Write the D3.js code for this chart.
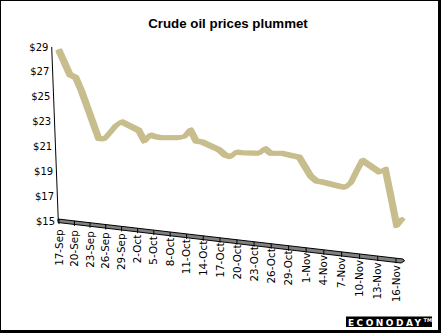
<!DOCTYPE html>
<html>
<head>
<meta charset="utf-8">
<script src="https://cdn.jsdelivr.net/npm/d3@7"></script>
<style>
  html, body { margin: 0; padding: 0; background: #fff; }
  svg { display: block; }
</style>
</head>
<body>
<svg id="chart" width="441" height="333"></svg>
<script>
// Daily crude oil closes, US$ per barrel (trading days only)
const tradeDates = [
  "2001-09-17","2001-09-18","2001-09-19","2001-09-20","2001-09-21",
  "2001-09-24","2001-09-25","2001-09-26","2001-09-27","2001-09-28",
  "2001-10-01","2001-10-02","2001-10-03","2001-10-04","2001-10-05",
  "2001-10-08","2001-10-09","2001-10-10","2001-10-11","2001-10-12",
  "2001-10-15","2001-10-16","2001-10-17","2001-10-18","2001-10-19",
  "2001-10-22","2001-10-23","2001-10-24","2001-10-25","2001-10-26",
  "2001-10-29","2001-10-30","2001-10-31","2001-11-01","2001-11-02",
  "2001-11-05","2001-11-06","2001-11-07","2001-11-08","2001-11-09",
  "2001-11-12","2001-11-13","2001-11-14","2001-11-15","2001-11-16"
];
const closePrices = [
  28.75, 27.79, 26.82, 26.66, 25.64,
  21.97, 21.98, 22.55, 23.16, 23.53,
  22.99, 22.18, 22.73, 22.63, 22.62,
  22.78, 22.93, 23.51, 22.67, 22.65,
  22.18, 21.83, 21.72, 22.16, 22.15,
  22.27, 22.70, 22.38, 22.43, 22.48,
  22.33, 21.61, 20.90, 20.58, 20.55,
  20.37, 20.33, 20.76, 21.74, 22.67,
  21.88, 22.17, 19.97, 17.72, 18.36
];
const priceTicks = [15, 17, 19, 21, 23, 25, 27, 29];
const dateTickLabels = [
  "17-Sep","20-Sep","23-Sep","26-Sep","29-Sep","2-Oct","5-Oct","8-Oct",
  "11-Oct","14-Oct","17-Oct","20-Oct","23-Oct","26-Oct","29-Oct","1-Nov",
  "4-Nov","7-Nov","10-Nov","13-Nov","16-Nov"
];
const chartTitle = "Crude oil prices plummet";

const parse = d3.timeParse("%Y-%m-%d");
const series = tradeDates.map((d, i) => ({ date: parse(d), value: closePrices[i] }));
const firstDay = parse("2001-09-17"), lastDay = parse("2001-11-16");

const svg = d3.select("#chart");
svg.append("rect").attr("width", 441).attr("height", 333).attr("fill", "#fff");

// Frame with a heavier lower/right edge
svg.append("rect").attr("x", 0.5).attr("y", 0.5).attr("width", 438).attr("height", 330)
  .attr("fill", "none").attr("stroke", "#000").attr("stroke-width", 1);
svg.append("rect").attr("x", 438).attr("y", 0).attr("width", 3).attr("height", 333).attr("fill", "#000");
svg.append("rect").attr("x", 0).attr("y", 330).attr("width", 441).attr("height", 3).attr("fill", "#000");

// Title
svg.append("text").attr("x", 228).attr("y", 28).attr("text-anchor", "middle")
  .attr("font-family", "'Liberation Sans', Arial, sans-serif").attr("font-weight", "bold")
  .attr("font-size", 13.3).attr("fill", "#000").text(chartTitle);

// Scales: time runs along a receding floor, price rises off that floor
const x = d3.scaleTime().domain([firstDay, lastDay]).range([57, 401]);
const floorTop = d3.scaleLinear().domain([58, 403]).range([219, 259]);
const rise = d3.scaleLinear().domain([15, 29]).range([0, 174]);
const axisLean = d3.scaleLinear().domain([15, 29]).range([58.3, 51.7]);
const px = d => x(d.date);
const py = d => floorTop(x(d.date)) + 2 - rise(d.value);

// Floor tick positions (perspective spacing along the floor)
const dayIdx = d3.scaleLinear().domain([0, 60]).range([59, 396]);
const floorX = days => dayIdx(days) - 0.00833 * days * (60 - days);
const labelTop = n => 229.3 + 0.855 * n + 0.0465 * n * n;

// Price axis
svg.append("line")
  .attr("x1", axisLean(29)).attr("y1", 221 - rise(29))
  .attr("x2", axisLean(15)).attr("y2", 221)
  .attr("stroke", "#000").attr("stroke-width", 1);
svg.append("g").selectAll("text").data(priceTicks).join("text")
  .attr("x", v => axisLean(v) - 3.3)
  .attr("y", v => 221 - rise(v))
  .attr("dy", "0.36em")
  .attr("text-anchor", "end")
  .attr("font-family", "'DejaVu Sans', sans-serif").attr("font-size", 10)
  .attr("fill", "#000")
  .text(v => "$" + v);

// Floor band
const fx0 = 58, fx1 = 403;
svg.append("path")
  .attr("d", `M${fx0},${floorTop(fx0)} L${fx1},${floorTop(fx1)} L${fx1 + 1.5},${floorTop(fx1) + 2} L${fx1 - 2},${floorTop(fx1) + 4} L${fx0},${floorTop(fx0) + 3.5} Z`)
  .attr("fill", "#808080").attr("stroke", "#000").attr("stroke-width", 1)
  .attr("stroke-linejoin", "miter");
svg.append("g").selectAll("line").data(dateTickLabels).join("line")
  .attr("x1", (d, i) => floorX(i * 3)).attr("x2", (d, i) => floorX(i * 3))
  .attr("y1", (d, i) => floorTop(floorX(i * 3)))
  .attr("y2", (d, i) => floorTop(floorX(i * 3)) + 5)
  .attr("stroke", "#000").attr("stroke-width", 1);

// Date labels, rotated
svg.append("g").selectAll("text").data(dateTickLabels).join("text")
  .attr("transform", (d, i) => `translate(${floorX(i * 3) + 3.6},${labelTop(i)}) rotate(-90)`)
  .attr("text-anchor", "end")
  .attr("font-family", "'DejaVu Sans', sans-serif").attr("font-size", 10.4)
  .attr("fill", "#000")
  .text(d => d);

// Price ribbon
const line = d3.line().x(px).y(py);
const ribbon = svg.append("g");
[[0, 0], [1, -0.35], [2, -0.7], [3, -1]].forEach(([dx, dy]) => {
  ribbon.append("path")
    .datum(series)
    .attr("transform", `translate(${dx},${dy})`)
    .attr("d", line)
    .attr("fill", "none")
    .attr("stroke", "#c8bd8d")
    .attr("stroke-width", 4)
    .attr("stroke-linejoin", "round")
    .attr("stroke-linecap", "butt");
});

// Logo
svg.append("rect").attr("x", 346).attr("y", 316.5).attr("width", 86).attr("height", 10.5).attr("fill", "#000");
svg.append("text").attr("x", 348).attr("y", 325.5)
  .attr("font-family", "'DejaVu Sans', sans-serif").attr("font-weight", "bold")
  .attr("font-size", 9).attr("fill", "#fff")
  .attr("textLength", 73).attr("lengthAdjust", "spacing")
  .text("ECONODAY");
svg.append("text").attr("x", 423.5).attr("y", 322)
  .attr("font-family", "'DejaVu Sans', sans-serif").attr("font-weight", "bold")
  .attr("font-size", 5).attr("fill", "#fff")
  .text("TM");
</script>
</body>
</html>
